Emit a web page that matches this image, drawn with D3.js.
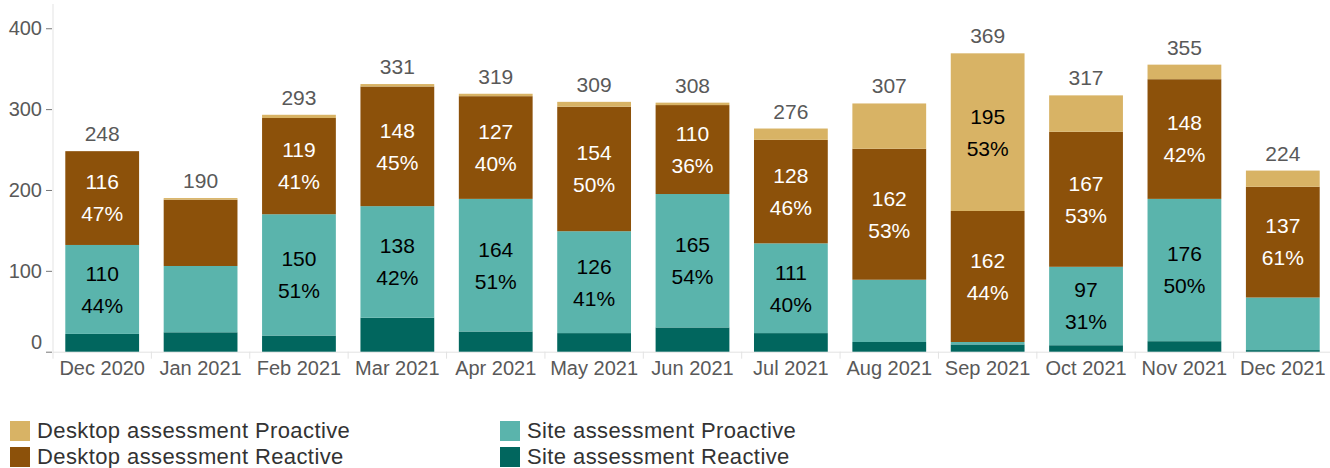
<!DOCTYPE html>
<html>
<head>
<meta charset="utf-8">
<script src="https://cdn.jsdelivr.net/npm/d3@7"></script>
<style>
  html, body { margin: 0; padding: 0; background: #fff; }
  svg { display: block; font-family: "Liberation Sans", Arial, sans-serif; }
</style>
</head>
<body>
<svg id="chart" width="1330" height="468"></svg>
<script>
const months = ["Dec 2020","Jan 2021","Feb 2021","Mar 2021","Apr 2021","May 2021","Jun 2021","Jul 2021","Aug 2021","Sep 2021","Oct 2021","Nov 2021","Dec 2021"];
const siteReactive     = [22, 24, 20, 42, 25, 23, 30, 23, 12,   9,   8,  13,   2];
const siteProactive    = [110, 82, 150, 138, 164, 126, 165, 111, 77, 3, 97, 176, 65];
const desktopReactive  = [116, 82, 119, 148, 127, 154, 110, 128, 162, 162, 167, 148, 137];
const desktopProactive = [0, 2, 4, 3, 3, 6, 3, 14, 56, 195, 45, 18, 20];
const yTicks = [0, 100, 200, 300, 400];

const seriesNames = ["Site assessment Reactive","Site assessment Proactive","Desktop assessment Reactive","Desktop assessment Proactive"];
const seriesValues = [siteReactive, siteProactive, desktopReactive, desktopProactive];
const colors = ["#01665e", "#5ab4ac", "#8c510a", "#d8b365"];
const labelColors = ["#000", "#000", "#fff", "#000"];
const labelThreshold = 90;

const svg = d3.select("#chart");
const x = d3.scaleBand().domain(months).range([53, 1332]).paddingInner(0.25).paddingOuter(0.125);
const y = d3.scaleLinear().domain([0, 430]).range([351.7, 4]);

const rows = months.map((m, i) => {
  const r = { month: m };
  seriesNames.forEach((s, k) => r[s] = seriesValues[k][i]);
  r.total = d3.sum(seriesValues, v => v[i]);
  return r;
});
const stack = d3.stack().keys(seriesNames)(rows);

// axes lines
svg.append("line").attr("x1", 53).attr("x2", 53).attr("y1", y.range()[1]).attr("y2", y(0))
  .attr("stroke", "#e3e3e3").attr("stroke-width", 1);
svg.append("line").attr("x1", 53).attr("x2", 1330).attr("y1", y(0) + 0.5).attr("y2", y(0) + 0.5)
  .attr("stroke", "#e3e3e3").attr("stroke-width", 1);

// band boundary ticks
const bounds = months.map(m => x(m) - x.step() * x.paddingInner() / 2);
svg.append("g").selectAll("line").data(bounds).join("line")
  .attr("x1", d => d).attr("x2", d => d).attr("y1", y(0)).attr("y2", y(0) + 7)
  .attr("stroke", "#e3e3e3");

// y axis
const yAxis = svg.append("g").attr("transform", "translate(52,0)")
  .call(d3.axisLeft(y).tickValues(yTicks).tickSize(6).tickPadding(4));
yAxis.select(".domain").remove();
yAxis.selectAll(".tick line").attr("stroke", "#777");
yAxis.selectAll(".tick text").attr("fill", "#595959").style("font-size", "20px")
  .style("font-family", "'Liberation Sans', Arial, sans-serif");
yAxis.selectAll(".tick").filter(d => d === 0).select("text").attr("y", -10);

// x axis labels
const xAxis = svg.append("g").attr("transform", `translate(0,${y(0)})`)
  .call(d3.axisBottom(x).tickSize(0).tickPadding(9));
xAxis.select(".domain").remove();
xAxis.selectAll(".tick text").attr("fill", "#595959").style("font-size", "20px")
  .style("font-family", "'Liberation Sans', Arial, sans-serif");

// bars
const g = svg.append("g");
stack.forEach((layer, k) => {
  g.append("g").attr("fill", colors[k]).selectAll("rect").data(layer).join("rect")
    .attr("x", d => x(d.data.month))
    .attr("width", x.bandwidth())
    .attr("y", d => y(d[1]))
    .attr("height", d => Math.max(0, y(d[0]) - y(d[1])));
});

// segment labels
stack.forEach((layer, k) => {
  const lg = g.append("g");
  layer.forEach(d => {
    const v = d[1] - d[0];
    if (v < labelThreshold) return;
    const cx = x(d.data.month) + x.bandwidth() / 2;
    const cy = (y(d[0]) + y(d[1])) / 2;
    const pct = Math.round(v / d.data.total * 100) + "%";
    const t = lg.append("text").attr("text-anchor", "middle").attr("fill", labelColors[k])
      .style("font-size", "21px");
    t.append("tspan").attr("x", cx).attr("y", cy - 16).attr("dy", "0.35em").text(v);
    t.append("tspan").attr("x", cx).attr("y", cy + 16).attr("dy", "0.35em").text(pct);
  });
});

// totals
svg.append("g").selectAll("text").data(rows).join("text")
  .attr("x", d => x(d.month) + x.bandwidth() / 2)
  .attr("y", d => y(d.total) - 10)
  .attr("text-anchor", "middle").attr("fill", "#595959").style("font-size", "21px")
  .text(d => d.total);

// legend
const legendItems = [
  { name: "Desktop assessment Proactive", color: colors[3], x: 10, y: 421 },
  { name: "Desktop assessment Reactive", color: colors[2], x: 10, y: 447 },
  { name: "Site assessment Proactive", color: colors[1], x: 500, y: 421 },
  { name: "Site assessment Reactive", color: colors[0], x: 500, y: 447 }
];
const lg = svg.append("g");
legendItems.forEach(it => {
  lg.append("rect").attr("x", it.x).attr("y", it.y).attr("width", 20).attr("height", 20).attr("fill", it.color);
  lg.append("text").attr("x", it.x + 27).attr("y", it.y + 17).attr("fill", "#333")
    .style("font-size", "22px").style("letter-spacing", "0.4px").text(it.name);
});
</script>
</body>
</html>
